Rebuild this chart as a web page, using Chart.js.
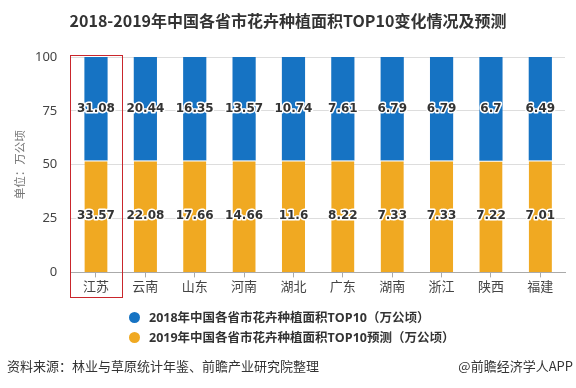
<!DOCTYPE html>
<html>
<head>
<meta charset="utf-8">
<script src="https://cdn.jsdelivr.net/npm/chart.js@4"></script>
<style>
  body { margin: 0; background: #fff; font-family: "Noto Sans CJK SC", "Noto Sans", sans-serif; }
  #wrap { position: relative; width: 576px; height: 388px; overflow: hidden; }
  #title { position: absolute; top: 8px; left: 0; width: 576px; text-align: center; white-space: nowrap;
           font-weight: bold; font-size: 16px; color: #333; }
  #legend { position: absolute; top: 308px; left: 129px; font-family: "Open Sans", "Noto Sans CJK SC", sans-serif;
            font-size: 12.5px; font-weight: bold; color: #333; }
  #legend div { height: 20px; line-height: 20px; white-space: nowrap; }
  #legend span.dot { display: inline-block; width: 11px; height: 11px; border-radius: 50%;
                     vertical-align: -1px; margin-right: 9px; }
  #source { position: absolute; top: 356px; left: 7px; font-size: 13px; color: #333; }
  #brand { position: absolute; top: 356px; right: 3px; font-size: 13px; color: #333; }
  canvas { position: absolute; top: 0; left: 0; }
</style>
</head>
<body>
<div id="wrap">
  <canvas id="chart" width="576" height="388"></canvas>
  <div id="title">2018-2019年中国各省市花卉种植面积TOP10变化情况及预测</div>
  <div id="legend"></div>
  <div id="source">资料来源：林业与草原统计年鉴、前瞻产业研究院整理</div>
  <div id="brand">@前瞻经济学人APP</div>
</div>
<script>
const provinces = ["江苏", "云南", "山东", "河南", "湖北", "广东", "湖南", "浙江", "陕西", "福建"];
const area2018 = [31.08, 20.44, 16.35, 13.57, 10.74, 7.61, 6.79, 6.79, 6.7, 6.49];
const area2019 = [33.57, 22.08, 17.66, 14.66, 11.6, 8.22, 7.33, 7.33, 7.22, 7.01];
const yTicks = [0, 25, 50, 75, 100];
const unitText = "单位：万公顷";

const name2018 = "2018年中国各省市花卉种植面积TOP10（万公顷）";
const name2019 = "2019年中国各省市花卉种植面积TOP10预测（万公顷）";
const blue = "#1673c3";
const orange = "#f0a922";

// share of each year in the bar (100% stacked)
const pct2018 = area2018.map((v, i) => v / (v + area2019[i]) * 100);
const pct2019 = area2019.map((v, i) => v / (v + area2018[i]) * 100);

// value labels drawn in the middle of each segment
const labelPlugin = {
  id: "valueLabels",
  afterDatasetsDraw(chart) {
    const ctx = chart.ctx;
    ctx.save();
    ctx.font = "bold 12px 'DejaVu Sans', sans-serif";
    ctx.textAlign = "center";
    ctx.textBaseline = "middle";
    ctx.lineJoin = "round";
    chart.data.datasets.forEach((ds, di) => {
      chart.getDatasetMeta(di).data.forEach((bar, i) => {
        const y = (bar.y + bar.base) / 2;
        const txt = String(ds.raw[i]);
        ctx.lineWidth = 3;
        ctx.strokeStyle = "#fff";
        ctx.strokeText(txt, bar.x, y);
        ctx.fillStyle = "#333";
        ctx.fillText(txt, bar.x, y);
      });
    });
    ctx.restore();
  }
};

// red box around the first category + unit label on the left
const extrasPlugin = {
  id: "extras",
  afterDraw(chart) {
    const x = chart.scales.x;
    const area = chart.chartArea;
    const step = x.getPixelForValue(1) - x.getPixelForValue(0);
    const cx = x.getPixelForValue(0);
    const ctx = chart.ctx;
    ctx.save();
    ctx.strokeStyle = "#c9262c";
    ctx.lineWidth = 1;
    ctx.strokeRect(Math.round(cx - step / 2 - 1) + 0.5, area.top - 1.5,
                   Math.round(step + 3), x.bottom - area.top + 4);

    ctx.translate(20, (area.top + area.bottom) / 2);
    ctx.rotate(-Math.PI / 2);
    ctx.fillStyle = "#777";
    ctx.font = "11.5px 'Noto Sans CJK SC'";
    ctx.textAlign = "center";
    ctx.textBaseline = "middle";
    ctx.fillText(unitText, 0, 0);
    ctx.restore();
  }
};

const chart = new Chart(document.getElementById("chart"), {
  type: "bar",
  data: {
    labels: provinces,
    datasets: [
      { label: name2019, data: pct2019, raw: area2019, backgroundColor: orange,
        borderColor: "#fff", borderWidth: { top: 1 }, borderSkipped: false,
        categoryPercentage: 1, barPercentage: 0.47 },
      { label: name2018, data: pct2018, raw: area2018, backgroundColor: blue,
        borderWidth: 0, categoryPercentage: 1, barPercentage: 0.47 }
    ]
  },
  options: {
    responsive: false,
    animation: false,
    layout: { padding: { top: 57, right: 11, bottom: 93, left: 21 } },
    plugins: { legend: { display: false }, title: { display: false }, tooltip: { enabled: false } },
    scales: {
      x: {
        stacked: true,
        grid: { display: true, drawOnChartArea: false, drawTicks: true, tickLength: 5, offset: false, color: "#aaa" },
        border: { color: "#aaa" },
        ticks: { color: "#444", font: { size: 13, family: "'Noto Sans CJK SC'" }, padding: 1 }
      },
      y: {
        stacked: true,
        min: 0, max: 100,
        afterBuildTicks(axis) { axis.ticks = yTicks.map(v => ({ value: v })); },
        grid: { color: "#ddd", drawTicks: false },
        border: { display: false },
        ticks: { color: "#444", font: { size: 13, family: "'Noto Sans', sans-serif" }, padding: 14 }
      }
    }
  },
  plugins: [labelPlugin, extrasPlugin]
});

// legend stacked vertically, 2018 first
const legend = document.getElementById("legend");
[chart.data.datasets[1], chart.data.datasets[0]].forEach(ds => {
  const row = document.createElement("div");
  row.innerHTML = `<span class="dot" style="background:${ds.backgroundColor}"></span>${ds.label}`;
  legend.appendChild(row);
});
</script>
</body>
</html>
